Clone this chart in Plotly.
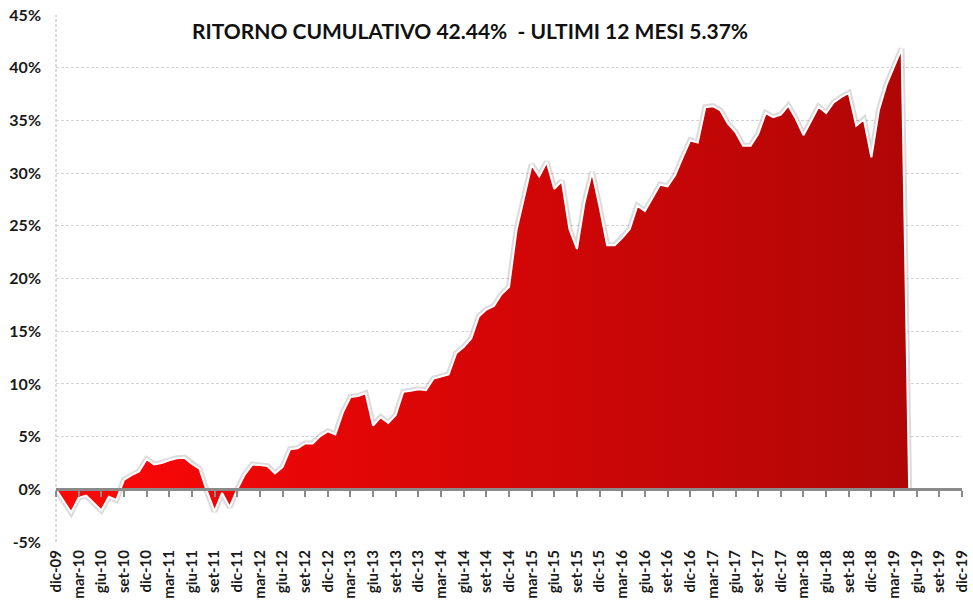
import plotly.graph_objects as go

# Cumulative return (%) monthly, dic-09 .. mag-19
values = [
    0.0, -1.1, -2.2, -0.8, -0.6, -1.3, -2.0, -0.7, -1.0, 0.9,
    1.35, 1.7, 2.85, 2.35, 2.5, 2.75, 2.95, 3.0, 2.4, 1.95,
    -0.2, -2.1, -0.35, -1.7, 0.0, 1.4, 2.35, 2.3, 2.2, 1.5,
    2.1, 3.8, 3.9, 4.35, 4.35, 5.05, 5.5, 5.2, 7.3, 8.75,
    8.85, 9.1, 6.05, 6.85, 6.3, 7.05, 9.25, 9.35, 9.5, 9.4,
    10.5, 10.7, 10.9, 12.9, 13.5, 14.3, 16.4, 17.05, 17.4, 18.5,
    19.2, 24.6, 27.85, 30.8, 29.7, 31.05, 28.5, 29.25, 24.7, 22.8,
    27.2, 30.1, 26.8, 23.15, 23.15, 23.85, 24.7, 26.9, 26.4, 27.6,
    28.9, 28.75, 29.8, 31.5, 33.1, 32.9, 36.25, 36.35, 35.95, 34.7,
    33.9, 32.6, 32.6, 33.7, 35.7, 35.3, 35.55, 36.4, 35.15, 33.6,
    35.0, 36.3, 35.7, 36.7, 37.2, 37.6, 34.5, 35.1, 31.5, 36.0,
    38.4, 40.1, 41.8, 0.0,
]
month_index = list(range(len(values)))

tick_positions = list(range(0, 121, 3))
tick_labels = [
    "dic-09", "mar-10", "giu-10", "set-10", "dic-10", "mar-11", "giu-11", "set-11",
    "dic-11", "mar-12", "giu-12", "set-12", "dic-12", "mar-13", "giu-13", "set-13",
    "dic-13", "mar-14", "giu-14", "set-14", "dic-14", "mar-15", "giu-15", "set-15",
    "dic-15", "mar-16", "giu-16", "set-16", "dic-16", "mar-17", "giu-17", "set-17",
    "dic-17", "mar-18", "giu-18", "set-18", "dic-18", "mar-19", "giu-19", "set-19",
    "dic-19",
]
y_ticks = list(range(-5, 46, 5))
y_tick_text = [f"{v}%" for v in y_ticks]

title_text = "RITORNO CUMULATIVO 42.44%  - ULTIMI 12 MESI 5.37%"

FONT = "Lato"

fig = go.Figure()

# soft shadow under the white edge
fig.add_trace(go.Scatter(
    x=month_index, y=values, mode="lines",
    line=dict(color="rgba(0,0,0,0.14)", width=6),
    hoverinfo="skip", showlegend=False, xaxis="x",
))
# main area
fig.add_trace(go.Scatter(
    x=month_index, y=values, mode="lines", fill="tozeroy",
    fillgradient=dict(type="horizontal",
                      colorscale=[[0, "#ff0707"], [0.5, "#d60606"], [1, "#b00606"]]),
    line=dict(color="white", width=2),
    showlegend=False, xaxis="x2",
))

fig.update_layout(
    width=973, height=603, autosize=False,
    margin=dict(l=56, r=11, t=15, b=61),
    paper_bgcolor="white", plot_bgcolor="white",
    font=dict(family=FONT, color="#1a1a1a"),
    xaxis=dict(
        range=[0, 120], tickmode="array", tickvals=tick_positions, ticktext=tick_labels,
        tickangle=-90, tickfont=dict(family=FONT, size=15, color="#1a1a1a", weight="bold"),
        showgrid=False, zeroline=False, showline=False, ticks="", ticklabelstandoff=4,
        automargin=False, ticklabeloverflow="allow",
    ),
    xaxis2=dict(
        range=[0, 120], overlaying="x", anchor="free", position=0.1,
        showline=True, linecolor="#8a8a8a", linewidth=3,
        ticks="outside", tickvals=tick_positions, ticklen=6, tickwidth=2, tickcolor="#8a8a8a",
        showticklabels=False, showgrid=False, zeroline=False, automargin=False,
    ),
    yaxis=dict(
        range=[-5, 45], tickmode="array", tickvals=y_ticks, ticktext=y_tick_text,
        tickfont=dict(family=FONT, size=16, color="#1a1a1a", weight="bold"),
        showgrid=True, gridcolor="#d4d4d4", griddash="3px,2px", gridwidth=1,
        zeroline=False, showline=False, ticks="", ticklabelstandoff=14,
        automargin=False, ticklabeloverflow="allow",
    ),
    shapes=[dict(type="line", xref="paper", yref="paper", x0=0, x1=0, y0=0, y1=1,
                 line=dict(color="#b8b8b8", width=1, dash="3px,2px"), layer="below")],
    annotations=[dict(
        text=title_text, xref="paper", yref="paper",
        x=(470 - 56) / 906, y=(542 - 30) / 527, xanchor="center", yanchor="middle",
        showarrow=False, bgcolor="white", width=606, height=38,
        font=dict(family=FONT, size=21, color="#111111", weight="bold"),
    )],
)

fig.write_html("out.html", config={"displayModeBar": False},
               post_script="document.body.style.margin='0';")
